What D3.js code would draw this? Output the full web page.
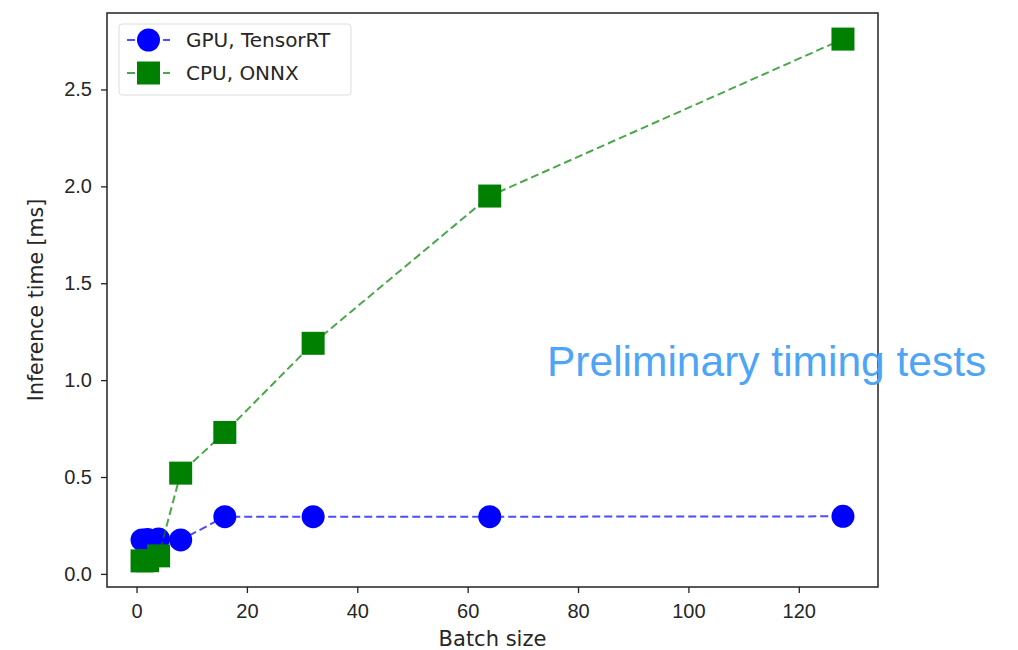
<!DOCTYPE html>
<html>
<head>
<meta charset="utf-8">
<script src="https://cdn.jsdelivr.net/npm/d3@7"></script>
<style>
  body { margin: 0; background: #fff; }
  svg { display: block; font-family: "DejaVu Sans", sans-serif; }
  .tick text { fill: #262626; }
</style>
</head>
<body>
<svg id="chart" width="1018" height="650"></svg>
<script>
// batch sizes and measured inference times [ms]
const batchSizes = [1, 2, 4, 8, 16, 32, 64, 128];
const gpuTimes = [0.175, 0.178, 0.18, 0.175, 0.295, 0.295, 0.295, 0.297];
const cpuTimes = [0.067, 0.068, 0.093, 0.52, 0.73, 1.19, 1.95, 2.76];
const xTicks = [0, 20, 40, 60, 80, 100, 120];
const yTicks = [0.0, 0.5, 1.0, 1.5, 2.0, 2.5];

const series = [
  { name: "GPU, TensorRT", values: gpuTimes, color: "#0000ff", line: "rgba(0,0,255,0.7)", shape: "circle" },
  { name: "CPU, ONNX", values: cpuTimes, color: "#008000", line: "rgba(0,128,0,0.7)", shape: "square" },
];

const svg = d3.select("#chart");
const margin = { left: 107, right: 140, top: 13, bottom: 63 };
const W = 1018, H = 650;

// matplotlib style 5% padding
const xr = d3.extent(batchSizes);
const xpad = (xr[1] - xr[0]) * 0.05;
const allY = gpuTimes.concat(cpuTimes);
const yr = d3.extent(allY);
const ypad = (yr[1] - yr[0]) * 0.05;

const x = d3.scaleLinear().domain([xr[0] - xpad, xr[1] + xpad]).range([margin.left, W - margin.right]);
const y = d3.scaleLinear().domain([yr[0] - ypad, yr[1] + ypad]).range([H - margin.bottom, margin.top]);

svg.append("g")
  .attr("transform", `translate(0,${H - margin.bottom})`)
  .call(d3.axisBottom(x).tickValues(xTicks).tickFormat(d3.format("d")).tickSize(6).tickPadding(11))
  .call((g) => g.select(".domain").remove())
  .call((g) => g.selectAll("line").attr("stroke", "#222").attr("stroke-width", 1.3))
  .call((g) => g.selectAll("text").attr("font-size", 20));

svg.append("g")
  .attr("transform", `translate(${margin.left},0)`)
  .call(d3.axisLeft(y).tickValues(yTicks).tickFormat(d3.format(".1f")).tickSize(6).tickPadding(9))
  .call((g) => g.select(".domain").remove())
  .call((g) => g.selectAll("line").attr("stroke", "#222").attr("stroke-width", 1.3))
  .call((g) => g.selectAll("text").attr("font-size", 20));

const line = d3.line()
  .x((d, i) => x(batchSizes[i]))
  .y((d) => y(d));

const R = 11.5;

series.forEach((s) => {
  svg.append("path")
    .datum(s.values)
    .attr("fill", "none")
    .attr("stroke", s.line)
    .attr("stroke-width", 2)
    .attr("stroke-dasharray", "8,4")
    .attr("d", line);

  const pts = svg.append("g").selectAll("g").data(s.values).join("g")
    .attr("transform", (d, i) => `translate(${x(batchSizes[i])},${y(d)})`);
  if (s.shape === "circle") {
    pts.append("circle").attr("r", R).attr("fill", s.color);
  } else {
    pts.append("rect").attr("x", -R).attr("y", -R).attr("width", 2 * R).attr("height", 2 * R).attr("fill", s.color);
  }
});

// frame
svg.append("rect")
  .attr("x", margin.left).attr("y", margin.top)
  .attr("width", W - margin.left - margin.right)
  .attr("height", H - margin.top - margin.bottom)
  .attr("fill", "none").attr("stroke", "#222").attr("stroke-width", 1.5);

// legend
const legend = svg.append("g").attr("transform", "translate(119,24)");
legend.append("rect")
  .attr("width", 232).attr("height", 71).attr("rx", 3)
  .attr("fill", "rgba(255,255,255,0.8)").attr("stroke", "#ddd");
series.forEach((s, i) => {
  const row = legend.append("g").attr("transform", `translate(0,${16 + i * 33})`);
  row.append("line").attr("x1", 8).attr("x2", 51).attr("stroke", s.line).attr("stroke-width", 2).attr("stroke-dasharray", "8,4");
  if (s.shape === "circle") {
    row.append("circle").attr("cx", 29.5).attr("r", R).attr("fill", s.color);
  } else {
    row.append("rect").attr("x", 29.5 - R).attr("y", -R).attr("width", 2 * R).attr("height", 2 * R).attr("fill", s.color);
  }
  row.append("text").attr("x", 67).attr("y", 7).attr("font-size", 20).attr("fill", "#262626").text(s.name);
});

// axis labels
svg.append("text")
  .attr("x", (margin.left + W - margin.right) / 2).attr("y", 646)
  .attr("text-anchor", "middle").attr("font-size", 21).attr("fill", "#262626")
  .text("Batch size");
svg.append("text")
  .attr("transform", `translate(43,${(margin.top + H - margin.bottom) / 2}) rotate(-90)`)
  .attr("text-anchor", "middle").attr("font-size", 20.5).attr("fill", "#262626")
  .text("Inference time [ms]");

// annotation
svg.append("text")
  .attr("x", 547).attr("y", 376)
  .attr("font-family", "'Liberation Sans', Arial, sans-serif")
  .attr("font-size", 42.5).attr("fill", "#4ea5f5")
  .text("Preliminary timing tests");
</script>
</body>
</html>
